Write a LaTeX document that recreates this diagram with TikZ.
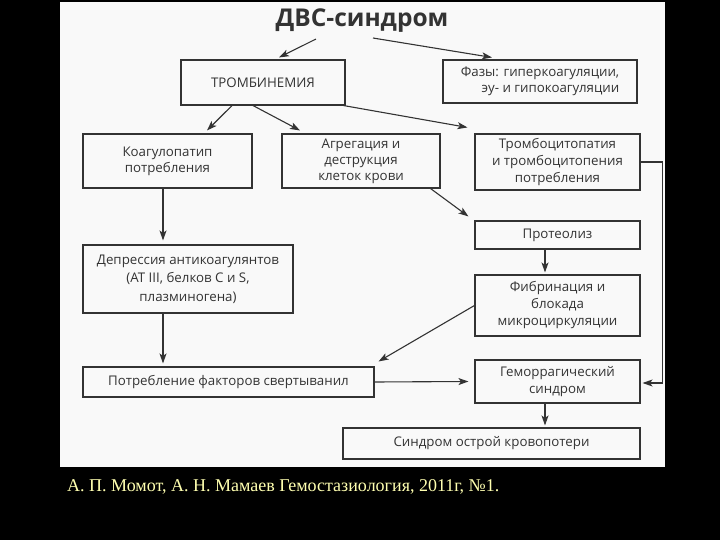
\documentclass[tikz,border=0pt]{standalone}
\usepackage{fontspec}
\setmainfont{Liberation Serif}
\newfontfamily\boxfont{Open Sans}
\usetikzlibrary{arrows.meta}
\definecolor{ink}{HTML}{333333}
\definecolor{paper}{HTML}{F9F9F9}
\definecolor{captcol}{HTML}{FFFFB0}
\begin{document}
\begin{tikzpicture}[x=1pt,y=-1pt,
  bx/.style={draw=ink,line width=1.1pt,fill=paper,text=ink,align=center,
    font=\boxfont\fontsize{13.3}{16}\selectfont,inner sep=2pt,anchor=center},
  wide/.style={font=\boxfont\fontsize{13.3}{18.5}\selectfont},
  mid/.style={font=\boxfont\fontsize{13.3}{17}\selectfont},
  arr/.style={draw=ink,line width=1.1pt,-{Stealth[length=10pt,width=7pt,inset=2.5pt]}}]
\useasboundingbox (0,0) rectangle (720,540);
\fill[black] (0,0) rectangle (720,540);
\fill[paper] (60,2) rectangle (665,467);

\node[text=ink,font=\boxfont\bfseries\fontsize{24.5}{27}\selectfont,inner sep=0pt] (title) at (362,21) {ДВС-синдром};

\node[bx,minimum width=164pt,minimum height=45pt] (tromb) at (263,82.5) {ТРОМБИНЕМИЯ};
\node[bx,minimum width=194pt,minimum height=43pt,align=right] (faz) at (540,81.5) {Фазы: гиперкоагуляции,\\эу- и гипокоагуляции};
\node[bx,minimum width=169pt,minimum height=54pt] (koag) at (167.5,161) {Коагулопатип\\потребления};
\node[bx,minimum width=158pt,minimum height=54pt] (agr) at (361,161) {Агрегация и\\деструкция\\клеток крови};
\node[bx,mid,minimum width=165pt,minimum height=56pt] (trc) at (557.5,162) {Тромбоцитопатия\\и тромбоцитопения\\потребления};
\node[bx,minimum width=165pt,minimum height=28pt] (prot) at (557.5,235) {Протеолиз};
\node[bx,wide,minimum width=210pt,minimum height=68pt] (depr) at (188,279) {Депрессия антикоагулянтов\\(АТ III, белков С и S,\\плазминогена)};
\node[bx,mid,minimum width=165pt,minimum height=61pt] (fibr) at (557.5,305.5) {Фибринация и\\блокада\\микроциркуляции};
\node[bx,minimum width=291pt,minimum height=30pt] (potr) at (228.5,382) {Потребление факторов свертыванил};
\node[bx,mid,minimum width=165pt,minimum height=43pt] (gem) at (557.5,381.5) {Геморрагический\\синдром};
\node[bx,minimum width=297pt,minimum height=31pt] (sind) at (491.5,443.5) {Синдром острой кровопотери};

\draw[arr] ([xshift=-46pt,yshift=-6pt]title.south) -- ([xshift=16pt,yshift=2pt]tromb.north);
\draw[arr] ([xshift=11pt,yshift=-5pt]title.south) -- ([xshift=-48pt,yshift=2pt]faz.north);
\draw[arr] ([xshift=-31pt]tromb.south) -- ([xshift=39.5pt,yshift=3pt]koag.north);
\draw[arr] ([xshift=-10pt]tromb.south) -- ([xshift=-61pt,yshift=3pt]agr.north);
\draw[arr] ([xshift=-2pt]tromb.south east) -- ([xshift=-7pt,yshift=6pt]trc.north west);
\draw[arr] ([xshift=-10pt]agr.south east) -- ([xshift=-6pt,yshift=4pt]prot.north west);
\draw[arr] ([xshift=-4.5pt]koag.south) -- ([xshift=-25pt,yshift=4pt]depr.north);
\draw[arr] ([xshift=-25pt]depr.south) -- ([xshift=-65.5pt,yshift=3pt]potr.north);
\draw[arr] ([xshift=-12.5pt]prot.south) -- ([xshift=-12.5pt,yshift=2pt]fibr.north);
\draw[arr] (fibr.west) -- ([xshift=4pt,yshift=5pt]potr.north east);
\draw[arr] (potr.east) -- ([xshift=-6pt]gem.west);
\draw[arr] (trc.east) -- ++(22,0) |- ([xshift=2pt,yshift=-1.5pt]gem.east);
\draw[arr] ([xshift=-12.5pt]gem.south) -- ([xshift=53.5pt,yshift=2pt]sind.north);

\node[text=captcol,font=\fontsize{18}{20}\selectfont,anchor=west,inner sep=0pt] (cap) at (67,487) {А. П. Момот, А. Н. Мамаев Гемостазиология, 2011г, №1.};
\end{tikzpicture}
\end{document}
